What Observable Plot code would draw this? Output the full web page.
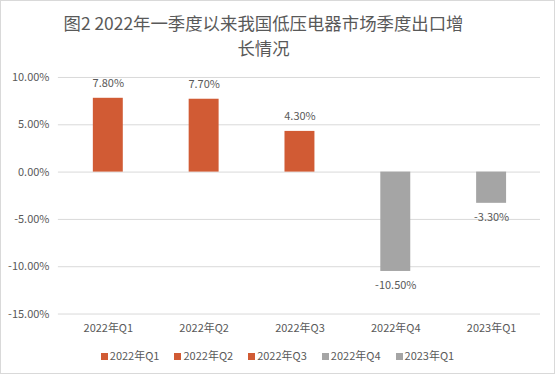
<!DOCTYPE html>
<html><head><meta charset="utf-8">
<script src="https://cdn.jsdelivr.net/npm/d3@7"></script>
<script src="https://cdn.jsdelivr.net/npm/@observablehq/plot@0.6"></script>
<style>
body{margin:0;background:#fff;font-family:"Noto Sans CJK SC","Noto Sans",sans-serif;}
#wrap{position:relative;width:553px;height:372px;border:1px solid #d9d9d9;overflow:hidden;}
#title{position:absolute;top:9px;left:-14px;width:553px;text-align:center;font-size:17.4px;line-height:25px;color:#595959;}
#chart{position:absolute;top:61px;left:-1px;}
#legend{position:absolute;top:346px;left:0;width:553px;display:flex;justify-content:center;gap:15px;font-size:11px;color:#595959;}
#legend span.sw{display:inline-block;width:7px;height:7px;margin-right:2px;vertical-align:0px;}
</style></head><body>
<div id="wrap">
<div id="title">图2 2022年一季度以来我国低压电器市场季度出口增<br>长情况</div>
<div id="chart"></div>
<div id="legend"></div>
</div>
<script>
const categories = ["2022年Q1","2022年Q2","2022年Q3","2022年Q4","2023年Q1"];
const values = [7.8, 7.7, 4.3, -10.5, -3.3];
const colors = ["#d15b34","#d15b34","#d15b34","#a5a5a5","#a5a5a5"];
const yTicks = [10, 5, 0, -5, -10, -15];

const data = categories.map((c,i)=>({cat:c, v:values[i], color:colors[i]}));
const fmt = d => d.toFixed(2) + "%";

const plot = Plot.plot({
  width: 555, height: 280,
  marginLeft: 58, marginRight: 14, marginTop: 15, marginBottom: 28,
  style: {fontFamily: '"Noto Sans CJK SC","Noto Sans",sans-serif', fontSize: "11px", color: "#595959", background: "transparent"},
  x: {domain: categories, paddingInner: 0.69, paddingOuter: 0.345, label: null},
  y: {domain: [-15, 10], label: null},
  marks: [
    Plot.gridY(yTicks, {stroke: "#d9d9d9", strokeOpacity: 1}),
    Plot.barY(data, {x: "cat", y: "v", fill: "color"}),
    Plot.text(data.filter(d=>d.v>=0), {x: "cat", y: "v", text: d=>fmt(d.v), dy: -15, fill: "#595959", fontSize: 11}),
    Plot.text(data.filter(d=>d.v<0), {x: "cat", y: "v", text: d=>fmt(d.v), dy: 14, fill: "#595959", fontSize: 11}),
    Plot.axisY({ticks: yTicks, tickFormat: fmt, tickSize: 0, tickPadding: 9, fill: "#595959", fontSize: 11, label: null}),
    Plot.axisX({tickSize: 0, tickPadding: 10, fill: "#595959", fontSize: 11, label: null})
  ]
});
document.getElementById("chart").appendChild(plot);

const leg = document.getElementById("legend");
categories.forEach((c,i)=>{
  const item = document.createElement("div");
  item.innerHTML = `<span class="sw" style="background:${colors[i]}"></span>${c}`;
  leg.appendChild(item);
});
</script>
</body></html>
